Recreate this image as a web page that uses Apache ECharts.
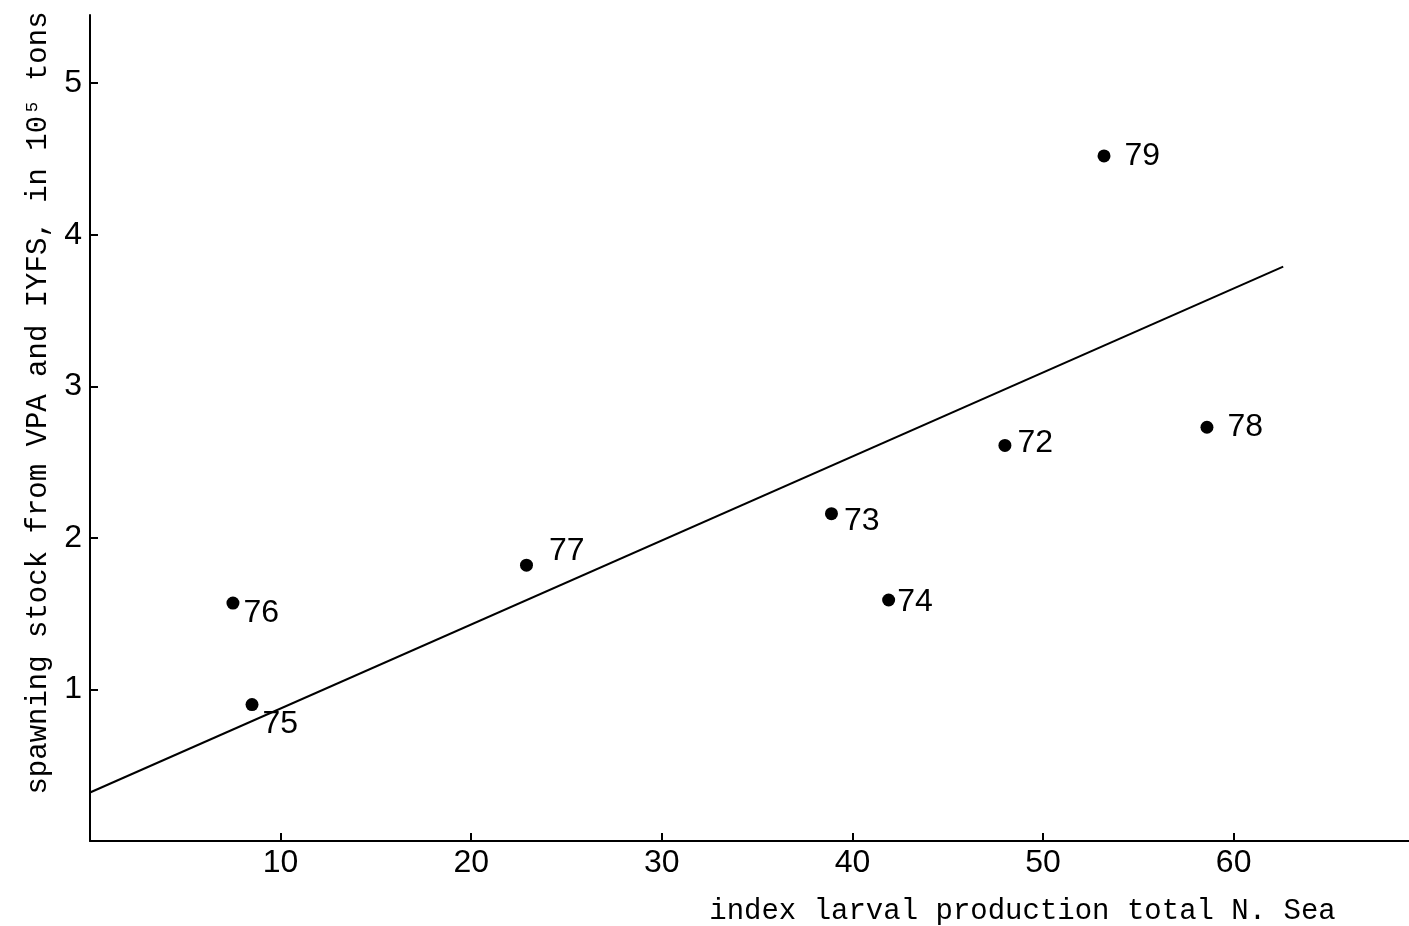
<!DOCTYPE html>
<html>
<head>
<meta charset="utf-8">
<style>
  html, body { margin: 0; padding: 0; background: #fff; }
  #chart { width: 1409px; height: 926px; }
</style>
<script src="https://cdn.jsdelivr.net/npm/echarts@6/dist/echarts.min.js"></script>
</head>
<body>
<div id="chart"></div>
<script>
// 年份标签和数据
var years = ['72', '73', '74', '75', '76', '77', '78', '79'];
var larvalIndex = [48.0, 38.9, 41.9, 8.5, 7.5, 22.9, 58.6, 53.2];
var spawningStock = [2.61, 2.16, 1.59, 0.90, 1.57, 1.82, 2.73, 4.52];

// 拟合直线 (从图上读出的两端)
var fitX = [0, 62.6];
var fitY = [0.32, 3.79];

// 标签偏移
var labelOffset = {
  '72': [0, -2], '73': [0, 8], '74': [-4, 2], '75': [-2, 20],
  '76': [-2, 10], '77': [10, -14], '78': [8, 0], '79': [8, 0]
};

var pts = years.map(function(y, i){
  return {
    value: [larvalIndex[i], spawningStock[i]],
    name: y,
    label: { offset: labelOffset[y] }
  };
});
var fitData = fitX.map(function(x, i){ return [x, fitY[i]]; });

var tickFont = { fontFamily: 'Liberation Sans', fontSize: 32, color: '#000' };
var nameFont = { fontFamily: 'Liberation Mono, DejaVu Sans Mono', fontSize: 29, color: '#000' };

var myChart = echarts.init(document.getElementById('chart'));
var option = {
  animation: false,
  backgroundColor: '#fff',
  grid: { left: 90, right: 0, top: 15, bottom: 85, outerBoundsMode: 'none', containLabel: false },
  xAxis: {
    type: 'value', min: 0, max: 69.2, interval: 10,
    name: 'index larval production total N. Sea',
    nameLocation: 'middle', nameGap: 56,
    nameTextStyle: Object.assign({ padding: [0, 0, 0, 546] }, nameFont),
    axisLine: { onZero: false, lineStyle: { color: '#000', width: 2 } },
    axisTick: { inside: true, length: 8, lineStyle: { color: '#000', width: 2 } },
    axisLabel: Object.assign({
      margin: 6, showMaxLabel: false,
      formatter: function(v){ return v === 0 ? '' : v; }
    }, tickFont),
    splitLine: { show: false }
  },
  yAxis: {
    type: 'value', min: 0, max: 5.45, interval: 1,
    name: 'spawning stock from VPA and IYFS, in 10\u2075 tons',
    nameLocation: 'middle', nameGap: 36, nameRotate: 90,
    nameTextStyle: Object.assign({ padding: [0, 0, 0, 50] }, nameFont),
    axisLine: { onZero: false, lineStyle: { color: '#000', width: 2 } },
    axisTick: { inside: true, length: 8, lineStyle: { color: '#000', width: 2 } },
    axisLabel: Object.assign({
      margin: 8, showMaxLabel: false,
      formatter: function(v){ return v === 0 ? '' : v; }
    }, tickFont),
    splitLine: { show: false }
  },
  series: [
    {
      type: 'line',
      data: fitData,
      symbol: 'none',
      lineStyle: { color: '#000', width: 2 },
      silent: true
    },
    {
      type: 'scatter',
      data: pts,
      symbolSize: 13,
      itemStyle: { color: '#000', opacity: 1 },
      label: Object.assign({
        show: true, position: 'right', distance: 6,
        formatter: function(p){ return p.name; }
      }, tickFont)
    }
  ]
};
myChart.setOption(option);
</script>
</body>
</html>
